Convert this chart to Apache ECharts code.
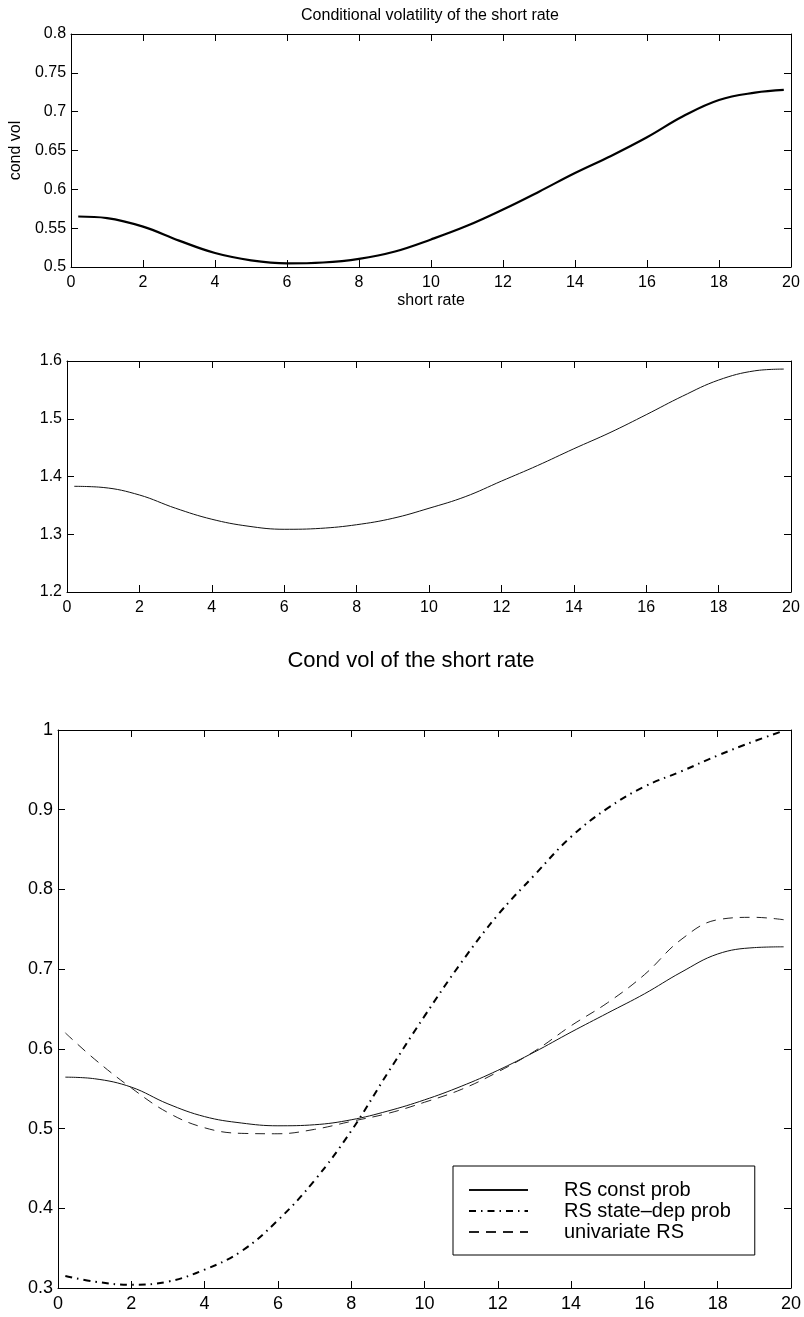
<!DOCTYPE html>
<html>
<head>
<meta charset="utf-8">
<script src="https://cdn.jsdelivr.net/npm/echarts@6/dist/echarts.min.js"></script>
<style>
html,body{margin:0;padding:0;background:#fff;}
#chart{width:804px;height:1317px;}
</style>
</head>
<body>
<div id="chart"></div>
<script>
// ---- data ----
const shortRate = [0.2, 1, 2, 3, 4, 5, 6, 7, 8, 9, 10, 11, 12, 13, 14, 15, 16, 17, 18, 19, 19.8];
const topCondVol = [0.565, 0.563, 0.552, 0.534, 0.518, 0.5086, 0.5047, 0.5058, 0.5105, 0.520, 0.5355, 0.553, 0.574, 0.597, 0.621, 0.643, 0.667, 0.694, 0.715, 0.7245, 0.728];
const midCondVol = [1.383, 1.381, 1.368, 1.345, 1.326, 1.314, 1.3086, 1.3102, 1.3165, 1.3276, 1.345, 1.365, 1.392, 1.419, 1.448, 1.476, 1.507, 1.539, 1.567, 1.583, 1.586];
const rsConstProb = [0.5645, 0.5625, 0.552, 0.531, 0.515, 0.507, 0.5035, 0.5048, 0.511, 0.522, 0.536, 0.553, 0.573, 0.596, 0.621, 0.645, 0.669, 0.696, 0.719, 0.727, 0.728];
const rsStateDepProb = [0.315, 0.308, 0.304, 0.308, 0.323, 0.346, 0.385, 0.435, 0.497, 0.570, 0.641, 0.708, 0.768, 0.818, 0.866, 0.902, 0.929, 0.948, 0.968, 0.986, 0.999];
const univariateRS = [0.620, 0.587, 0.551, 0.520, 0.501, 0.494, 0.4935, 0.499, 0.509, 0.519, 0.533, 0.549, 0.571, 0.597, 0.629, 0.658, 0.693, 0.737, 0.762, 0.765, 0.762];
// axis tick ranges [min, max, interval]
const xTicks = [0, 20, 2];
const topYTicks = [0.5, 0.8, 0.05];
const midYTicks = [1.2, 1.6, 0.1];
const botYTicks = [0.3, 1, 0.1];
const legendNames = ['RS const prob', 'RS state\u2013dep prob', 'univariate RS'];

const FONT = 'Liberation Sans, Arial, Helvetica, sans-serif';
const pairs = (xs, ys) => xs.map((x, i) => [x, ys[i]]);

const grids = [
  {left: 67, top: 34, width: 724, height: 233},
  {left: 67, top: 361, width: 724, height: 231},
  {left: 58, top: 730, width: 733, height: 558}
];

function xAxes(gi, fs, margin, extra) {
  const base = {
    type: 'value', gridIndex: gi, min: xTicks[0], max: xTicks[1], interval: xTicks[2],
    splitLine: {show: false},
    axisLine: {show: true, onZero: false, lineStyle: {color: '#000', width: 1}},
    axisTick: {show: true, inside: true, length: 7, lineStyle: {color: '#000'}}
  };
  return [
    Object.assign({}, base, {position: 'bottom',
      axisLabel: {show: true, fontSize: fs, fontFamily: FONT, color: '#000', margin: margin}}, extra || {}),
    Object.assign({}, base, {position: 'top', axisLabel: {show: false}})
  ];
}
function yAxes(gi, t, fs, extra) {
  const base = {
    type: 'value', gridIndex: gi, min: t[0], max: t[1], interval: t[2],
    splitLine: {show: false},
    axisLine: {show: true, onZero: false, lineStyle: {color: '#000', width: 1}},
    axisTick: {show: true, inside: true, length: 7, lineStyle: {color: '#000'}}
  };
  return [
    Object.assign({}, base, {position: 'left',
      axisLabel: {show: true, fontSize: fs, fontFamily: FONT, color: '#000', margin: 5}}, extra || {}),
    Object.assign({}, base, {position: 'right', axisLabel: {show: false}})
  ];
}

const xAxis = [].concat(
  xAxes(0, 16, 8, {name: 'short rate', nameLocation: 'middle', nameGap: 26,
    nameTextStyle: {fontSize: 16, fontFamily: FONT, color: '#000'}}),
  xAxes(1, 16, 8),
  xAxes(2, 18, 7)
);
const yAxis = [].concat(
  yAxes(0, topYTicks, 16, {name: 'cond vol', nameLocation: 'middle', nameRotate: 90, nameGap: 38,
    nameTextStyle: {fontSize: 16, fontFamily: FONT, color: '#000'}}),
  yAxes(1, midYTicks, 16),
  yAxes(2, botYTicks, 18)
);

const chart = echarts.init(document.getElementById('chart'), null, {renderer: 'canvas'});
chart.setOption({
  backgroundColor: '#fff',
  animation: false,
  title: [
    {text: 'Conditional volatility of the short rate', left: 430, top: 8, textAlign: 'center', padding: 0,
      textStyle: {fontSize: 16, fontWeight: 'normal', fontFamily: FONT, color: '#000'}},
    {text: 'Cond vol of the short rate', left: 411, top: 650, textAlign: 'center', padding: 0,
      textStyle: {fontSize: 22, fontWeight: 'normal', fontFamily: FONT, color: '#000'}}
  ],
  grid: grids,
  xAxis: xAxis,
  yAxis: yAxis,
  legend: {
    data: legendNames, orient: 'vertical', left: 453, top: 1166,
    padding: [14, 24, 13, 15], itemGap: 1, itemWidth: 59, itemHeight: 20,
    borderColor: '#000', borderWidth: 1, backgroundColor: '#fff',
    selectedMode: false,
    itemStyle: {color: 'rgba(0,0,0,0)', borderWidth: 0, opacity: 0},
    textStyle: {fontSize: 20, fontFamily: FONT, color: '#000', padding: [0, 0, 0, 31]}
  },
  series: [
    {type: 'line', xAxisIndex: 0, yAxisIndex: 0, data: pairs(shortRate, topCondVol), smooth: 0.4,
      symbol: 'none', lineStyle: {color: '#000', width: 2.2}},
    {type: 'line', xAxisIndex: 2, yAxisIndex: 2, data: pairs(shortRate, midCondVol), smooth: 0.4,
      symbol: 'none', lineStyle: {color: '#111', width: 1}},
    {name: legendNames[0], type: 'line', xAxisIndex: 4, yAxisIndex: 4, data: pairs(shortRate, rsConstProb), smooth: 0.4,
      symbol: 'none', lineStyle: {color: '#111', width: 1}},
    {name: legendNames[1], type: 'line', xAxisIndex: 4, yAxisIndex: 4, data: pairs(shortRate, rsStateDepProb), smooth: 0.4,
      symbol: 'none', lineStyle: {color: '#000', width: 2, type: [7, 5, 1.5, 5]}},
    {name: legendNames[2], type: 'line', xAxisIndex: 4, yAxisIndex: 4, data: pairs(shortRate, univariateRS), smooth: 0.4,
      symbol: 'none', lineStyle: {color: '#222', width: 1, type: [10, 7]}}
  ]
});
</script>
</body>
</html>
